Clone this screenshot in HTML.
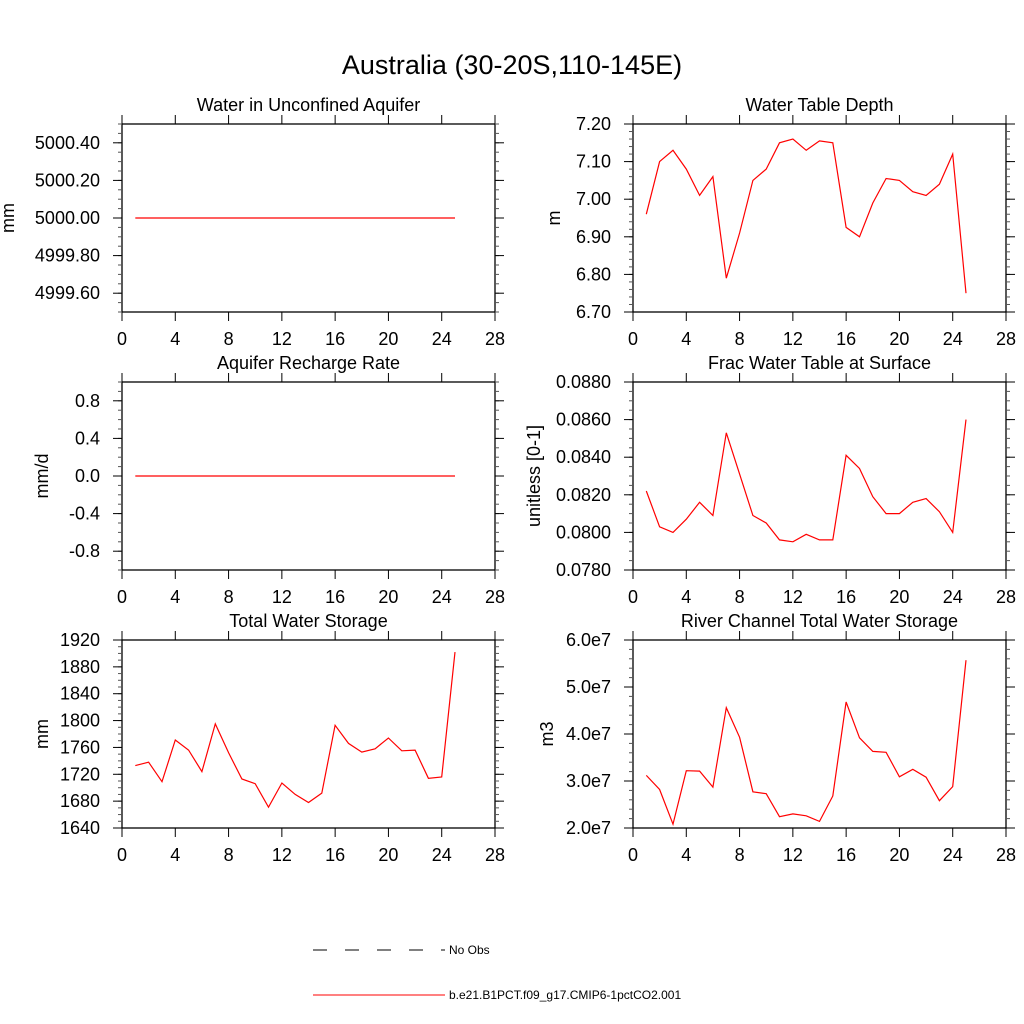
<!DOCTYPE html>
<html><head><meta charset="utf-8"><style>
body{margin:0;background:#fff;}
svg{display:block;font-family:"Liberation Sans",sans-serif;}
</style></head><body>
<svg id="chart" width="1024" height="1024" viewBox="0 0 1024 1024">
<text x="512" y="74" font-size="27" text-anchor="middle">Australia (30-20S,110-145E)</text>
<g>
<line x1="313" y1="950" x2="445" y2="950" stroke="#000" stroke-width="1" stroke-dasharray="14,18"/>
<text x="449" y="954" font-size="12">No Obs</text>
<line x1="313" y1="995" x2="445" y2="995" stroke="#f00" stroke-width="1"/>
<text x="449" y="999" font-size="12">b.e21.B1PCT.f09_g17.CMIP6-1pctCO2.001</text>
</g>
</svg>
<script>
const years = [1,2,3,4,5,6,7,8,9,10,11,12,13,14,15,16,17,18,19,20,21,22,23,24,25];
const xTicks = [0,4,8,12,16,20,24,28];
const aquiferWater = [5000,5000,5000,5000,5000,5000,5000,5000,5000,5000,5000,5000,5000,5000,5000,5000,5000,5000,5000,5000,5000,5000,5000,5000,5000];
const waterTableDepth = [6.96,7.10,7.13,7.08,7.01,7.06,6.79,6.91,7.05,7.08,7.15,7.16,7.13,7.155,7.15,6.925,6.90,6.99,7.055,7.05,7.02,7.01,7.04,7.12,6.75];
const rechargeRate = [0,0,0,0,0,0,0,0,0,0,0,0,0,0,0,0,0,0,0,0,0,0,0,0,0];
const fracWaterTable = [0.0822,0.0803,0.0800,0.0807,0.0816,0.0809,0.0853,0.0831,0.0809,0.0805,0.0796,0.0795,0.0799,0.0796,0.0796,0.0841,0.0834,0.0819,0.0810,0.0810,0.0816,0.0818,0.0811,0.0800,0.0860];
const totalWaterStorage = [1733,1738,1709,1771,1756,1724,1795,1752,1713,1706,1671,1707,1690,1678,1692,1793,1766,1753,1758,1774,1755,1756,1714,1716,1902];
const riverStorage = [3.12e7,2.82e7,2.08e7,3.22e7,3.21e7,2.87e7,4.56e7,3.93e7,2.77e7,2.73e7,2.24e7,2.30e7,2.26e7,2.14e7,2.68e7,4.68e7,3.92e7,3.63e7,3.61e7,3.09e7,3.25e7,3.08e7,2.58e7,2.88e7,5.57e7];
const yTicks1 = ["4999.60","4999.80","5000.00","5000.20","5000.40"];
const yTicks2 = ["-0.8","-0.4","0.0","0.4","0.8"];
const yTicks3 = ["6.70","6.80","6.90","7.00","7.10","7.20"];
const yTicks4 = ["0.0780","0.0800","0.0820","0.0840","0.0860","0.0880"];
const yTicks5 = ["1640","1680","1720","1760","1800","1840","1880","1920"];
const yTicks6 = ["2.0e7","3.0e7","4.0e7","5.0e7","6.0e7"];

const NS="http://www.w3.org/2000/svg";
const svg=document.getElementById('chart');
function mk(tag,attrs,parent){const e=document.createElementNS(NS,tag);for(const k in attrs)e.setAttribute(k,attrs[k]);parent.appendChild(e);return e;}

const panels=[
 {id:'aquifer-water',title:'Water in Unconfined Aquifer',unit:'mm',x0:122,y0:124,ymin:4999.5,ymax:5000.5,minor:0.05,ticks:yTicks1,data:aquiferWater,ux:14},
 {id:'water-table-depth',title:'Water Table Depth',unit:'m',x0:633,y0:124,ymin:6.70,ymax:7.20,minor:0.02,ticks:yTicks3,data:waterTableDepth,ux:560},
 {id:'recharge-rate',title:'Aquifer Recharge Rate',unit:'mm/d',x0:122,y0:382,ymin:-1,ymax:1,minor:0.1,ticks:yTicks2,data:rechargeRate,ux:48},
 {id:'frac-water-table',title:'Frac Water Table at Surface',unit:'unitless [0-1]',x0:633,y0:382,ymin:0.078,ymax:0.088,minor:0.0005,ticks:yTicks4,data:fracWaterTable,ux:540},
 {id:'total-water-storage',title:'Total Water Storage',unit:'mm',x0:122,y0:640,ymin:1640,ymax:1920,minor:10,ticks:yTicks5,data:totalWaterStorage,ux:48},
 {id:'river-storage',title:'River Channel Total Water Storage',unit:'m3',x0:633,y0:640,ymin:2e7,ymax:6e7,minor:0.2e7,ticks:yTicks6,data:riverStorage,ux:553}
];
const W=373,H=188;
panels.forEach(p=>{
 const g=mk('g',{},svg);
 
 
 const xs=v=>p.x0+v/28*W;
 const ys=v=>p.y0+H-(v-p.ymin)/(p.ymax-p.ymin)*H;
 const fr=mk('rect',{x:p.x0,y:p.y0,width:W,height:H,fill:'none',stroke:'#000','stroke-width':1.3},g);
 
 
 const t=mk('text',{x:p.x0+W/2,y:p.y0-13,'font-size':18,'text-anchor':'middle'},g);
 t.textContent=p.title;
 
 
 const u=mk('text',{x:p.ux,y:p.y0+H/2,'font-size':18,'text-anchor':'middle',transform:`rotate(-90 ${p.ux} ${p.y0+H/2})`},g);
 u.textContent=p.unit;
 
 
 xTicks.forEach(v=>{
  const x=xs(v);
  mk('line',{x1:x,y1:p.y0+H,x2:x,y2:p.y0+H+9,stroke:'#000'},g);
  mk('line',{x1:x,y1:p.y0,x2:x,y2:p.y0-9,stroke:'#000'},g);
  const l=mk('text',{x:x,y:p.y0+H+33,'font-size':18,'text-anchor':'middle'},g);
  l.textContent=v;
  
  
 });
 const n=Math.round((p.ymax-p.ymin)/p.minor);
 for(let i=0;i<=n;i++){
  const y=ys(p.ymin+i*p.minor);
  mk('line',{x1:p.x0,y1:y,x2:p.x0-4,y2:y,stroke:'#555'},g);
  mk('line',{x1:p.x0+W,y1:y,x2:p.x0+W+4,y2:y,stroke:'#555'},g);
 }
 p.ticks.forEach(s=>{
  const v=parseFloat(s);const y=ys(v);
  mk('line',{x1:p.x0,y1:y,x2:p.x0-9,y2:y,stroke:'#000'},g);
  mk('line',{x1:p.x0+W,y1:y,x2:p.x0+W+9,y2:y,stroke:'#000'},g);
  const l=mk('text',{x:p.x0-22,y:y+6,'font-size':18,'text-anchor':'end'},g);
  l.textContent=s;
  
  
 });
 const pts=p.data.map((v,i)=>xs(years[i]).toFixed(1)+','+ys(v).toFixed(1)).join(' ');
 const pl=mk('polyline',{points:pts,fill:'none',stroke:'#f00','stroke-width':1.2},g);
 
 
});
</script>
</body></html>
